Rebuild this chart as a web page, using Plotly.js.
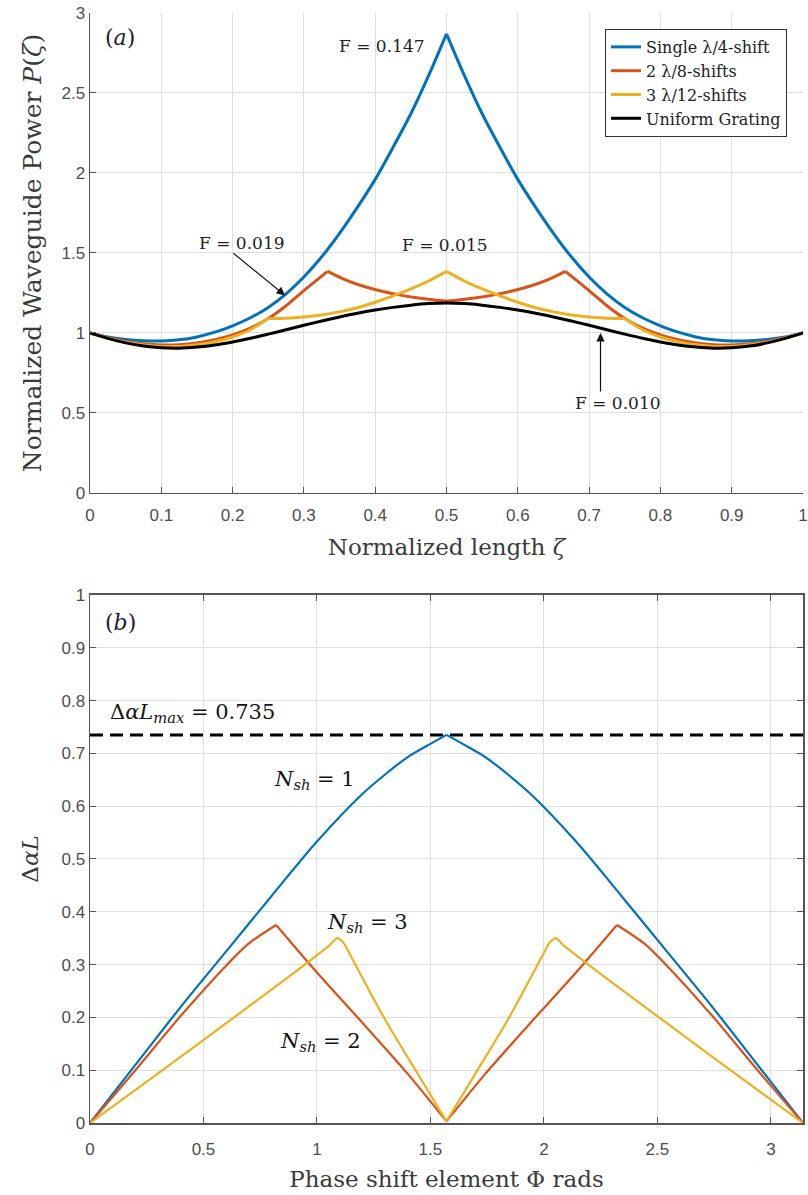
<!DOCTYPE html>
<html>
<head>
<meta charset="utf-8">
<script src="https://cdn.plot.ly/plotly-3.0.1.min.js"></script>
<style>
  html, body { margin: 0; padding: 0; background: #ffffff; }
  #chart { width: 808px; height: 1195px; }
</style>
</head>
<body>
<div id="chart"></div>
<script>
// ---------- (a) waveguide power along the grating ----------
const zeta = [0,0.025,0.05,0.075,0.1,0.125,0.15,0.175,0.2,0.225,0.25,0.275,0.3,0.325,0.35,0.375,0.4,0.425,0.45,0.475,0.5,
              0.525,0.55,0.575,0.6,0.625,0.65,0.675,0.7,0.725,0.75,0.775,0.8,0.825,0.85,0.875,0.9,0.925,0.95,0.975,1];
const powerSingle = [1.000,0.975,0.960,0.952,0.950,0.957,0.975,1.005,1.045,1.095,1.160,1.245,1.350,1.476,1.623,1.785,1.960,2.160,2.370,2.610,2.870,
                     2.610,2.370,2.160,1.960,1.785,1.623,1.476,1.350,1.245,1.160,1.095,1.045,1.005,0.975,0.957,0.950,0.952,0.960,0.975,1.000];
const powerThree = [1.000,0.968,0.942,0.925,0.916,0.916,0.926,0.945,0.975,1.020,1.090,1.092,1.100,1.113,1.132,1.158,1.192,1.232,1.275,1.325,1.385,
                    1.325,1.275,1.232,1.192,1.158,1.132,1.113,1.100,1.092,1.090,1.020,0.975,0.945,0.926,0.916,0.916,0.925,0.942,0.968,1.000];
const powerUniform = [1.000,0.966,0.938,0.918,0.907,0.905,0.912,0.925,0.944,0.967,0.993,1.020,1.048,1.075,1.100,1.123,1.143,1.160,1.174,1.184,1.188,
                      1.184,1.174,1.160,1.143,1.123,1.100,1.075,1.048,1.020,0.993,0.967,0.944,0.925,0.912,0.905,0.907,0.918,0.938,0.966,1.000];
const zetaTwo = [0,0.025,0.05,0.075,0.1,0.125,0.15,0.175,0.2,0.225,0.25,0.275,0.3,0.3333,0.3583,0.3833,0.4083,0.4333,0.4583,0.4833,0.5,
                 0.5167,0.5417,0.5667,0.5917,0.6167,0.6417,0.6667,0.7,0.725,0.75,0.775,0.8,0.825,0.85,0.875,0.9,0.925,0.95,0.975,1];
const powerTwo = [1.000,0.970,0.947,0.932,0.925,0.927,0.938,0.958,0.988,1.030,1.090,1.170,1.265,1.385,1.332,1.292,1.262,1.238,1.220,1.206,1.200,
                  1.206,1.220,1.238,1.262,1.292,1.332,1.385,1.265,1.170,1.090,1.030,0.988,0.958,0.938,0.927,0.925,0.932,0.947,0.970,1.000];
// phase-shift positions (kinks of each curve)
const kinksSingle = [0.5];
const kinksTwo = [0.3333, 0.6667];
const kinksThree = [0.25, 0.5, 0.75];
const seriesNames = ['Single λ/4-shift', '2 λ/8-shifts', '3 λ/12-shifts', 'Uniform Grating'];
const flatness = ['F = 0.147', 'F = 0.019', 'F = 0.015', 'F = 0.010'];

// ---------- (b) gain margin vs phase-shift element ----------
const phiOne = [0,0.2,0.4,0.6,0.8,1.0,1.2,1.3,1.4,1.5,1.5708,1.6416,1.7416,1.8416,1.9416,2.1416,2.3416,2.5416,2.7416,2.9416,3.1416];
const gainOne = [0,0.110,0.220,0.325,0.430,0.533,0.623,0.660,0.693,0.718,0.735,0.718,0.693,0.660,0.623,0.533,0.430,0.325,0.220,0.110,0];
const phiTwo = [0,0.2,0.4,0.6,0.7,0.82,1.0,1.2,1.4,1.5708,1.7416,1.9416,2.1416,2.3216,2.4416,2.5416,2.7416,2.9416,3.1416];
const gainTwo = [0,0.100,0.203,0.298,0.340,0.375,0.285,0.190,0.093,0.003,0.093,0.190,0.285,0.375,0.340,0.298,0.203,0.100,0];
const phiThree = [0,0.3,0.6,0.9,1.06,1.09,1.12,1.3,1.45,1.5708,1.6916,1.8416,2.0216,2.0516,2.0816,2.2416,2.5416,2.8416,3.1416];
const gainThree = [0,0.094,0.189,0.285,0.338,0.350,0.340,0.196,0.089,0.003,0.089,0.196,0.340,0.350,0.338,0.285,0.189,0.094,0];
const kinksOne = [1.5708];
const kinksTwoB = [0.82, 1.5708, 2.3216];
const kinksThreeB = [1.06, 1.12, 1.5708, 2.0216, 2.0816];
const gainMax = 0.735;
const phiRange = [0, Math.PI];

const colors = ['#0072BD', '#D95319', '#EDB120', '#000000'];
const serif = 'DejaVu Serif, Liberation Serif, serif';
const sans = 'Liberation Sans, Arial, sans-serif';

// Split a curve at its kinks so each smooth piece is drawn as a spline
// while the kinks themselves stay sharp.
function pieces(xs, ys, kinks, base) {
  const cuts = [0];
  xs.forEach((v, i) => { if (kinks.includes(v)) cuts.push(i); });
  cuts.push(xs.length - 1);
  const out = [];
  for (let k = 0; k < cuts.length - 1; k++) {
    const a = cuts[k], b = cuts[k + 1];
    out.push(Object.assign({}, base, {
      x: xs.slice(a, b + 1), y: ys.slice(a, b + 1), mode: 'lines',
      line: Object.assign({shape: 'spline', smoothing: 0.8}, base.line),
      showlegend: base.showlegend !== false && k === 0
    }));
  }
  return out;
}

const traces = [].concat(
  pieces(zeta, powerSingle, kinksSingle, {name: seriesNames[0], legendgroup: 'g0', xaxis: 'x', yaxis: 'y', line: {color: colors[0], width: 3}}),
  pieces(zetaTwo, powerTwo, kinksTwo, {name: seriesNames[1], legendgroup: 'g1', xaxis: 'x', yaxis: 'y', line: {color: colors[1], width: 3}}),
  pieces(zeta, powerThree, kinksThree, {name: seriesNames[2], legendgroup: 'g2', xaxis: 'x', yaxis: 'y', line: {color: colors[2], width: 3}}),
  pieces(zeta, powerUniform, [], {name: seriesNames[3], legendgroup: 'g3', xaxis: 'x', yaxis: 'y', line: {color: colors[3], width: 3}}),
  [{x: phiRange, y: [gainMax, gainMax], xaxis: 'x2', yaxis: 'y2', mode: 'lines', showlegend: false,
    line: {color: '#000000', width: 3, dash: '13px,7px'}}],
  pieces(phiOne, gainOne, kinksOne, {xaxis: 'x2', yaxis: 'y2', showlegend: false, line: {color: colors[0], width: 2.2}}),
  pieces(phiTwo, gainTwo, kinksTwoB, {xaxis: 'x2', yaxis: 'y2', showlegend: false, line: {color: colors[1], width: 2.2}}),
  pieces(phiThree, gainThree, kinksThreeB, {xaxis: 'x2', yaxis: 'y2', showlegend: false, line: {color: colors[2], width: 2.2}})
);

const tickFont = {family: sans, size: 17, color: '#4d4d4d'};
const titleFont = {family: serif, size: 23, color: '#3a3a3a'};
const axisBase = {
  ticks: 'inside', ticklen: 6, tickwidth: 1, tickcolor: '#555555',
  showline: true, linecolor: '#555555', linewidth: 1.5,
  showgrid: true, gridcolor: '#dedede', gridwidth: 1,
  zeroline: false, tickfont: tickFont, fixedrange: true
};

const textFont = {family: serif, size: 17, color: '#222222'};
const mathFont = {family: serif, size: 21, color: '#141414'};

const annotations = [
  // panel (a)
  {xref: 'x', yref: 'y', x: 0.018, y: 2.85, xanchor: 'left', text: '(<i>a</i>)', showarrow: false, font: {family: serif, size: 22, color: '#1c1c30'}},
  {xref: 'x', yref: 'y', x: 0.4095, y: 2.794, text: flatness[0], showarrow: false, font: textFont},
  {xref: 'x', yref: 'y', x: 0.213, y: 1.5625, text: flatness[1], showarrow: false, font: textFont},
  {xref: 'x', yref: 'y', x: 0.498, y: 1.55, text: flatness[2], showarrow: false, font: textFont},
  {xref: 'x', yref: 'y', x: 0.7405, y: 0.5625, text: flatness[3], showarrow: false, font: textFont},
  {xref: 'x', yref: 'y', axref: 'x', ayref: 'y', x: 0.2735, y: 1.235, ax: 0.199, ay: 1.506, text: '',
   showarrow: true, arrowhead: 2, arrowsize: 1.4, arrowwidth: 1.2, arrowcolor: '#111111'},
  {xref: 'x', yref: 'y', axref: 'x', ayref: 'y', x: 0.716, y: 1.0, ax: 0.716, ay: 0.625, text: '',
   showarrow: true, arrowhead: 2, arrowsize: 1.4, arrowwidth: 1.2, arrowcolor: '#111111'},
  // panel (b)
  {xref: 'x2', yref: 'y2', x: 0.057, y: 0.947, xanchor: 'left', text: '(<i>b</i>)', showarrow: false, font: {family: serif, size: 22, color: '#1c1c30'}},
  {xref: 'x2', yref: 'y2', x: 0.079, y: 0.7765, xanchor: 'left', text: 'Δ<i>αL</i><sub><i>max</i></sub> = ' + gainMax.toFixed(3), showarrow: false, font: mathFont},
  {xref: 'x2', yref: 'y2', x: 0.9885, y: 0.65, text: '<i>N</i><sub><i>sh</i></sub> = 1', showarrow: false, font: mathFont},
  {xref: 'x2', yref: 'y2', x: 1.222, y: 0.379, text: '<i>N</i><sub><i>sh</i></sub> = 3', showarrow: false, font: mathFont},
  {xref: 'x2', yref: 'y2', x: 1.015, y: 0.153, text: '<i>N</i><sub><i>sh</i></sub> = 2', showarrow: false, font: mathFont}
];

const layout = {
  width: 808, height: 1195,
  margin: {l: 90, r: 5, t: 13, b: 72},
  paper_bgcolor: '#ffffff', plot_bgcolor: '#ffffff',
  showlegend: true,
  legend: {
    x: 0.9776, y: 0.9856, xanchor: 'right', yanchor: 'top', tracegroupgap: 0,
    bgcolor: '#ffffff', bordercolor: '#333333', borderwidth: 1,
    font: {family: serif, size: 16, color: '#222222'}
  },
  xaxis: Object.assign({}, axisBase, {
    domain: [0, 1], anchor: 'y', range: [0, 1], tick0: 0, dtick: 0.1, ticklabelstandoff: 6,
    title: {text: 'Normalized length <i>ζ</i>', font: titleFont, standoff: 15}
  }),
  yaxis: Object.assign({}, axisBase, {
    domain: [0.5676, 1], anchor: 'x', range: [0, 3], tick0: 0, dtick: 0.5,
    title: {text: 'Normalized Waveguide Power <i>P</i>(<i>ζ</i>)', font: Object.assign({}, titleFont, {size: 25}), standoff: 12}
  }),
  xaxis2: Object.assign({}, axisBase, {
    domain: [0, 1], anchor: 'y2', range: phiRange, tick0: 0, dtick: 0.5, mirror: 'ticks', ticklabelstandoff: 10,
    title: {text: 'Phase shift element Φ rads', font: titleFont, standoff: 13}
  }),
  yaxis2: Object.assign({}, axisBase, {
    domain: [0, 0.4757], anchor: 'x2', range: [0, 1], tick0: 0, dtick: 0.1, mirror: 'ticks',
    title: {text: 'Δ<i>αL</i>', font: titleFont, standoff: 16}
  }),
  annotations: annotations
};

Plotly.newPlot('chart', traces, layout, {displayModeBar: false, staticPlot: true});
</script>
</body>
</html>
